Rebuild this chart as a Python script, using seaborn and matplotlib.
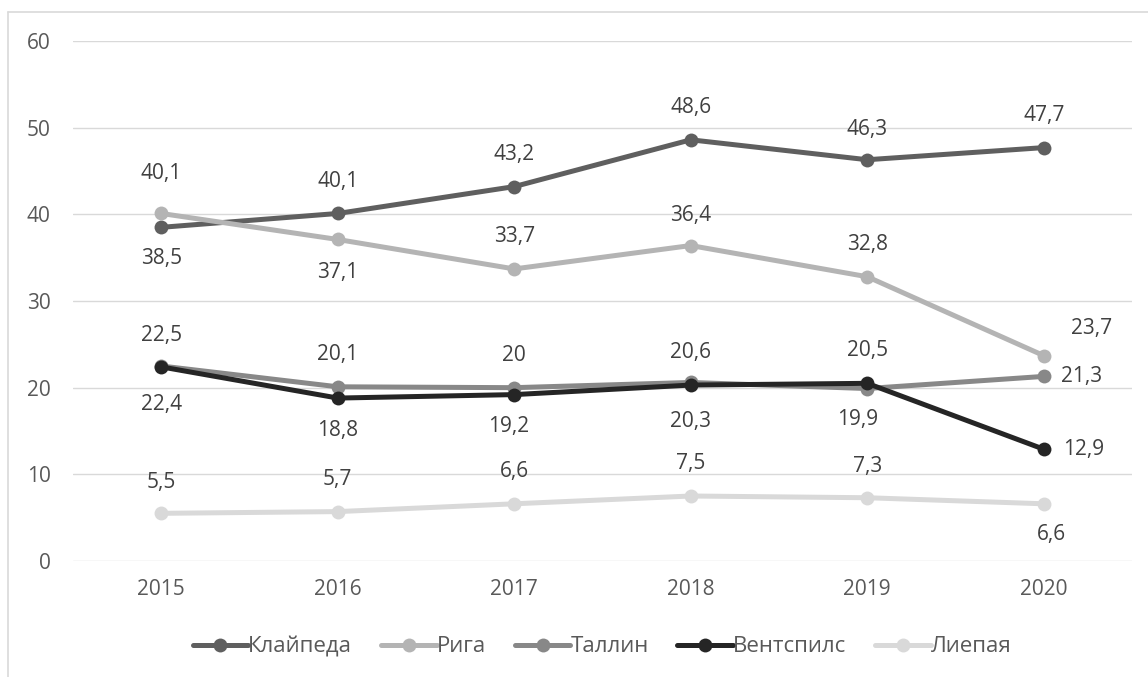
import matplotlib
matplotlib.use("Agg")
import matplotlib.pyplot as plt
from matplotlib.lines import Line2D
import seaborn as sns
import pandas as pd

years = [2015, 2016, 2017, 2018, 2019, 2020]
cities = ["Клайпеда", "Рига", "Таллин", "Вентспилс", "Лиепая"]
klaipeda = [38.5, 40.1, 43.2, 48.6, 46.3, 47.7]
riga = [40.1, 37.1, 33.7, 36.4, 32.8, 23.7]
tallinn = [22.5, 20.1, 20.0, 20.6, 19.9, 21.3]
ventspils = [22.4, 18.8, 19.2, 20.3, 20.5, 12.9]
liepaja = [5.5, 5.7, 6.6, 7.5, 7.3, 6.6]
series = [klaipeda, riga, tallinn, ventspils, liepaja]

colors = ["#5f5f5f", "#b4b4b4", "#888888", "#252525", "#d9d9d9"]

# label offsets in pixels (dx, dy up)
label_offsets = [
    [(0, -31), (0, 32), (0, 32), (0, 32), (0, 30), (0, 32)],
    [(0, 40), (0, -33), (0, 32), (0, 30), (0, 32), (48, 27)],
    [(0, 31), (0, 32), (0, 32), (0, 30), (-10, -31), (38, 0)],
    [(0, -38), (0, -32), (-6, -32), (0, -36), (0, 33), (40, 0)],
    [(0, 31), (0, 32), (0, 32), (0, 32), (0, 31), (8, -31)],
]

rows = []
for c, vals in zip(cities, series):
    for y, v in zip(years, vals):
        rows.append({"year": y, "value": v, "city": c})
df = pd.DataFrame(rows)

sns.set_theme(style="white")
plt.rcParams["font.family"] = ["Open Sans", "DejaVu Sans"]

FS = 15

fig = plt.figure(figsize=(11.48, 6.77), dpi=100)
ax = fig.add_axes([73 / 1148, 1 - 561 / 677, (1132 - 73) / 1148, (561 - 41) / 677])

sns.lineplot(data=df, x="year", y="value", hue="city", hue_order=cities,
             palette=colors, marker="o", markersize=10, markeredgewidth=0,
             linewidth=3.6, legend=False, ax=ax, sort=False)

ax.set_xlim(2014.5, 2020.5)
ax.set_ylim(0, 60)
ax.set_yticks(range(0, 61, 10))
ax.set_xticks(years)
ax.set_xticklabels([str(y) for y in years])
ax.grid(axis="y", color="#d9d9d9", linewidth=1.0)
ax.set_axisbelow(True)
for s in ax.spines.values():
    s.set_visible(False)
ax.tick_params(axis="both", length=0, labelsize=FS, labelcolor="#595959")
ax.tick_params(axis="y", pad=16)
ax.tick_params(axis="x", pad=13)
ax.set_xlabel("")
ax.set_ylabel("")

for vals, offs in zip(series, label_offsets):
    for y, v, (dx, dy) in zip(years, vals, offs):
        txt = f"{v:g}".replace(".", ",")
        ax.annotate(txt, (y, v), xytext=(dx, dy), textcoords="offset pixels",
                    ha="center", va="center", fontsize=FS, color="#404040",
                    annotation_clip=False)

handles = [Line2D([0], [0], color=c, marker="o", markersize=10, markeredgewidth=0,
                  linewidth=3.6) for c in colors]
fig.legend(handles, cities, loc="center", bbox_to_anchor=(602 / 1148, 1 - 647 / 677),
           ncol=5, frameon=False, fontsize=16, labelcolor="#595959",
           handlelength=2.5, handletextpad=0.0, columnspacing=1.3)

# chart area border
fig.add_artist(Line2D([8 / 1148, 8 / 1148], [0, 1 - 12 / 677], color="#d9d9d9",
                      linewidth=1.2, transform=fig.transFigure))
fig.add_artist(Line2D([8 / 1148, 1], [1 - 12 / 677, 1 - 12 / 677], color="#d9d9d9",
                      linewidth=1.2, transform=fig.transFigure))

fig.savefig("out.png", dpi=100, facecolor="white")
